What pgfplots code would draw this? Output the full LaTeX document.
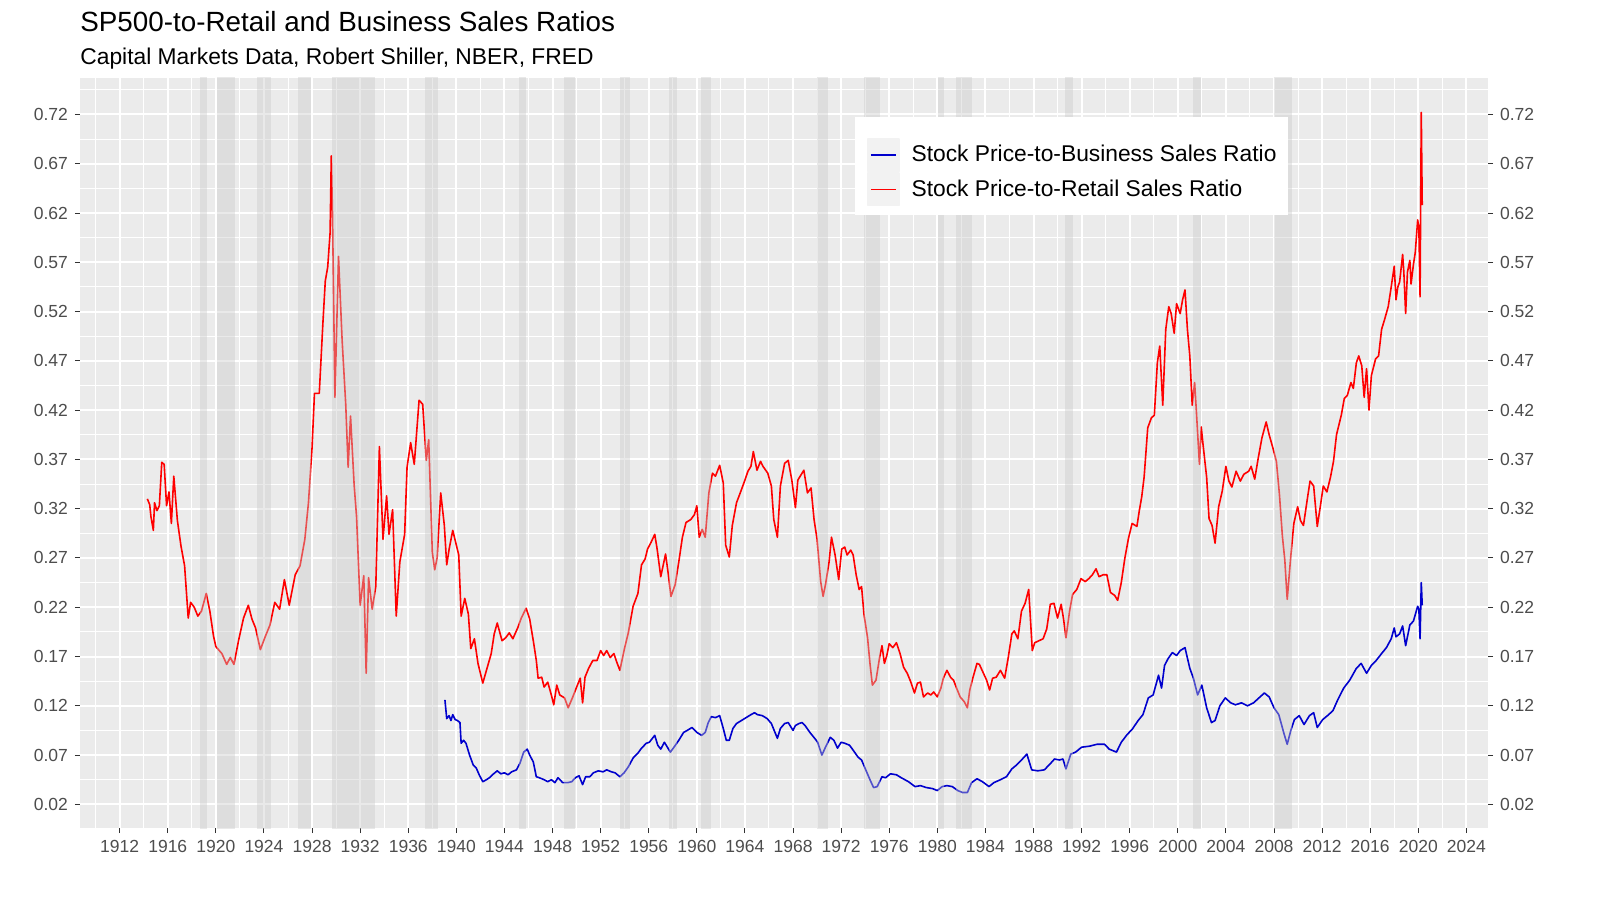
\documentclass[border=0pt]{standalone}
\usepackage{pgfplots}
\usepackage{pgfplotstable}
\pgfplotsset{compat=1.18}
\usepackage{fontspec}
\setmainfont{Liberation Sans}
\definecolor{panelbg}{RGB}{235,235,235}
\definecolor{tickgray}{RGB}{77,77,77}
\definecolor{tickline}{RGB}{51,51,51}
\definecolor{legkey}{RGB}{242,242,242}
\definecolor{recgray}{RGB}{200,200,200}
\definecolor{lineblue}{RGB}{0,0,205}
\definecolor{linered}{RGB}{255,0,0}

\pgfplotstableread{
x y
1914.3 0.330
1914.5 0.324
1914.6 0.312
1914.8 0.298
1914.9 0.326
1915.1 0.318
1915.3 0.323
1915.5 0.367
1915.7 0.365
1915.9 0.323
1916.1 0.337
1916.3 0.305
1916.5 0.353
1916.8 0.308
1917.1 0.282
1917.4 0.262
1917.7 0.209
1917.9 0.225
1918.2 0.220
1918.5 0.211
1918.8 0.216
1919.2 0.234
1919.5 0.216
1919.8 0.191
1920.0 0.180
1920.5 0.173
1920.9 0.162
1921.2 0.169
1921.5 0.162
1921.9 0.187
1922.3 0.209
1922.7 0.222
1923.0 0.208
1923.3 0.199
1923.7 0.177
1924.1 0.190
1924.5 0.202
1924.9 0.225
1925.3 0.218
1925.7 0.248
1926.1 0.222
1926.6 0.253
1927.0 0.262
1927.4 0.289
1927.7 0.326
1928.0 0.382
1928.2 0.437
1928.6 0.437
1928.9 0.508
1929.1 0.551
1929.3 0.565
1929.5 0.600
1929.6 0.678
1929.7 0.619
1929.9 0.433
1930.2 0.576
1930.5 0.491
1930.8 0.426
1931.0 0.362
1931.2 0.414
1931.5 0.344
1931.7 0.312
1932.0 0.222
1932.3 0.252
1932.5 0.153
1932.7 0.250
1933.0 0.218
1933.3 0.241
1933.6 0.383
1933.9 0.289
1934.2 0.333
1934.4 0.294
1934.7 0.319
1935.0 0.211
1935.3 0.266
1935.7 0.294
1935.9 0.362
1936.2 0.387
1936.5 0.365
1936.9 0.430
1937.2 0.426
1937.5 0.369
1937.7 0.390
1938.0 0.276
1938.2 0.258
1938.4 0.270
1938.7 0.336
1939.0 0.303
1939.2 0.263
1939.4 0.279
1939.7 0.298
1940.0 0.283
1940.2 0.273
1940.4 0.211
1940.7 0.229
1941.0 0.213
1941.2 0.178
1941.5 0.188
1941.8 0.163
1942.2 0.143
1942.55 0.158
1942.9 0.173
1943.15 0.193
1943.4 0.204
1943.8 0.186
1944.1 0.189
1944.4 0.194
1944.7 0.188
1945.1 0.199
1945.4 0.209
1945.8 0.219
1946.1 0.208
1946.4 0.186
1946.65 0.166
1946.8 0.148
1947.1 0.149
1947.3 0.139
1947.6 0.144
1947.9 0.131
1948.1 0.121
1948.35 0.141
1948.6 0.131
1949.0 0.128
1949.3 0.118
1949.65 0.128
1950.07 0.141
1950.3 0.148
1950.5 0.123
1950.7 0.149
1951.0 0.158
1951.35 0.166
1951.7 0.166
1952.0 0.176
1952.25 0.171
1952.5 0.176
1952.8 0.169
1953.1 0.173
1953.35 0.164
1953.6 0.156
1954.0 0.179
1954.3 0.194
1954.7 0.221
1955.1 0.234
1955.4 0.263
1955.7 0.269
1955.9 0.279
1956.2 0.286
1956.5 0.294
1956.7 0.279
1957.0 0.251
1957.4 0.274
1957.6 0.256
1957.85 0.231
1958.2 0.243
1958.5 0.266
1958.8 0.291
1959.1 0.306
1959.5 0.309
1959.8 0.314
1960.0 0.323
1960.2 0.291
1960.45 0.299
1960.7 0.291
1961.0 0.336
1961.3 0.356
1961.55 0.353
1961.9 0.364
1962.2 0.346
1962.4 0.283
1962.7 0.271
1962.95 0.303
1963.3 0.326
1963.7 0.339
1964.0 0.349
1964.25 0.358
1964.5 0.363
1964.7 0.378
1965.0 0.359
1965.3 0.368
1965.5 0.363
1965.9 0.356
1966.2 0.343
1966.4 0.309
1966.7 0.291
1966.95 0.343
1967.3 0.366
1967.6 0.369
1967.9 0.349
1968.2 0.321
1968.4 0.349
1968.65 0.354
1968.9 0.359
1969.2 0.336
1969.5 0.341
1969.75 0.309
1970.0 0.289
1970.3 0.246
1970.5 0.231
1970.7 0.243
1971.0 0.266
1971.2 0.291
1971.5 0.273
1971.8 0.248
1972.05 0.279
1972.3 0.281
1972.5 0.273
1972.8 0.278
1973.0 0.273
1973.25 0.253
1973.5 0.238
1973.7 0.241
1973.9 0.213
1974.2 0.189
1974.4 0.163
1974.6 0.141
1974.9 0.146
1975.2 0.169
1975.4 0.181
1975.6 0.163
1975.8 0.171
1976.0 0.183
1976.3 0.179
1976.6 0.184
1976.9 0.173
1977.2 0.159
1977.5 0.153
1977.8 0.144
1978.1 0.133
1978.35 0.143
1978.6 0.144
1978.85 0.129
1979.2 0.133
1979.45 0.131
1979.7 0.134
1980.0 0.129
1980.3 0.138
1980.5 0.148
1980.8 0.156
1981.1 0.149
1981.35 0.146
1981.6 0.138
1981.9 0.129
1982.25 0.124
1982.5 0.118
1982.7 0.136
1982.95 0.148
1983.3 0.163
1983.5 0.162
1983.8 0.154
1984.1 0.146
1984.35 0.136
1984.6 0.148
1984.9 0.149
1985.25 0.156
1985.6 0.148
1985.9 0.169
1986.2 0.193
1986.4 0.196
1986.7 0.188
1987.0 0.216
1987.3 0.224
1987.6 0.238
1987.9 0.176
1988.1 0.184
1988.45 0.186
1988.8 0.188
1989.1 0.198
1989.4 0.223
1989.7 0.224
1990.0 0.209
1990.3 0.223
1990.5 0.208
1990.7 0.189
1991.0 0.216
1991.25 0.233
1991.6 0.238
1991.95 0.249
1992.3 0.246
1992.6 0.249
1992.9 0.253
1993.2 0.259
1993.45 0.251
1993.8 0.253
1994.1 0.253
1994.4 0.235
1994.75 0.232
1995.0 0.227
1995.3 0.245
1995.6 0.270
1995.9 0.290
1996.2 0.305
1996.6 0.302
1996.8 0.318
1997.0 0.332
1997.2 0.352
1997.5 0.402
1997.8 0.412
1998.05 0.415
1998.3 0.468
1998.5 0.485
1998.75 0.425
1999.0 0.502
1999.25 0.525
1999.45 0.518
1999.7 0.498
1999.9 0.528
2000.2 0.518
2000.4 0.532
2000.6 0.542
2000.8 0.502
2001.0 0.475
2001.2 0.425
2001.4 0.448
2001.55 0.418
2001.8 0.365
2001.95 0.403
2002.1 0.385
2002.4 0.352
2002.6 0.310
2002.85 0.303
2003.1 0.285
2003.4 0.322
2003.7 0.338
2004.0 0.363
2004.25 0.348
2004.5 0.342
2004.85 0.358
2005.2 0.348
2005.5 0.355
2005.9 0.358
2006.1 0.363
2006.4 0.350
2006.7 0.372
2007.0 0.392
2007.35 0.408
2007.6 0.395
2007.9 0.382
2008.2 0.368
2008.45 0.335
2008.7 0.292
2008.9 0.268
2009.1 0.228
2009.4 0.272
2009.65 0.305
2009.97 0.322
2010.2 0.308
2010.45 0.303
2010.8 0.332
2011.0 0.348
2011.3 0.343
2011.6 0.302
2011.85 0.322
2012.1 0.343
2012.4 0.337
2012.7 0.352
2012.95 0.368
2013.2 0.395
2013.6 0.415
2013.85 0.432
2014.1 0.435
2014.4 0.448
2014.6 0.442
2014.85 0.468
2015.05 0.475
2015.3 0.465
2015.5 0.433
2015.7 0.462
2015.9 0.420
2016.1 0.455
2016.45 0.472
2016.7 0.475
2016.95 0.502
2017.2 0.512
2017.5 0.525
2017.75 0.545
2018.0 0.566
2018.15 0.532
2018.3 0.545
2018.45 0.550
2018.7 0.578
2018.8 0.560
2018.95 0.518
2019.1 0.560
2019.3 0.572
2019.4 0.548
2019.6 0.568
2019.75 0.580
2019.95 0.613
2020.05 0.605
2020.15 0.535
2020.25 0.722
2020.33 0.628
}\reddata

\pgfplotstableread{
x y
1939.05 0.126
1939.2 0.107
1939.4 0.110
1939.55 0.105
1939.7 0.111
1939.9 0.106
1940.1 0.105
1940.3 0.103
1940.4 0.082
1940.6 0.085
1940.8 0.082
1941.1 0.070
1941.4 0.060
1941.65 0.057
1941.9 0.050
1942.2 0.043
1942.5 0.045
1942.75 0.047
1943.0 0.050
1943.4 0.054
1943.7 0.051
1944.0 0.052
1944.3 0.050
1944.6 0.053
1945.0 0.055
1945.3 0.062
1945.6 0.073
1945.9 0.076
1946.1 0.070
1946.4 0.063
1946.65 0.048
1946.9 0.047
1947.3 0.045
1947.6 0.043
1947.9 0.045
1948.2 0.042
1948.45 0.047
1948.85 0.042
1949.25 0.042
1949.6 0.043
1949.9 0.047
1950.2 0.049
1950.5 0.040
1950.75 0.048
1951.1 0.048
1951.4 0.052
1951.8 0.054
1952.2 0.053
1952.5 0.055
1952.9 0.053
1953.2 0.052
1953.6 0.048
1953.95 0.052
1954.3 0.058
1954.7 0.067
1955.1 0.072
1955.4 0.077
1955.8 0.082
1956.05 0.083
1956.5 0.090
1956.75 0.080
1957.0 0.076
1957.3 0.083
1957.8 0.073
1958.1 0.078
1958.5 0.085
1958.9 0.093
1959.2 0.095
1959.6 0.098
1960.0 0.093
1960.4 0.090
1960.7 0.093
1960.95 0.103
1961.2 0.109
1961.55 0.108
1961.9 0.110
1962.2 0.097
1962.45 0.085
1962.7 0.085
1963.0 0.097
1963.3 0.102
1963.7 0.105
1964.1 0.108
1964.5 0.111
1964.8 0.113
1965.05 0.111
1965.45 0.110
1965.85 0.107
1966.2 0.102
1966.5 0.093
1966.7 0.087
1966.95 0.097
1967.3 0.102
1967.6 0.103
1968.0 0.095
1968.2 0.100
1968.5 0.102
1968.75 0.103
1969.0 0.100
1969.4 0.093
1969.8 0.087
1970.05 0.083
1970.4 0.070
1970.7 0.078
1971.1 0.088
1971.4 0.085
1971.7 0.077
1972.0 0.083
1972.3 0.082
1972.7 0.080
1973.0 0.075
1973.4 0.068
1973.7 0.065
1974.05 0.055
1974.4 0.045
1974.7 0.037
1975.0 0.038
1975.4 0.048
1975.7 0.047
1976.1 0.051
1976.6 0.050
1977.0 0.047
1977.6 0.043
1978.15 0.038
1978.6 0.039
1979.1 0.037
1979.6 0.036
1980.0 0.034
1980.4 0.038
1980.8 0.039
1981.25 0.038
1981.7 0.034
1982.1 0.032
1982.5 0.032
1982.85 0.042
1983.3 0.046
1983.75 0.043
1984.3 0.038
1984.7 0.042
1985.25 0.045
1985.75 0.048
1986.2 0.056
1986.6 0.060
1987.0 0.065
1987.45 0.071
1987.85 0.055
1988.35 0.054
1988.9 0.055
1989.3 0.060
1989.75 0.066
1990.15 0.065
1990.45 0.066
1990.7 0.056
1991.1 0.071
1991.5 0.073
1992.0 0.078
1992.65 0.079
1993.3 0.081
1993.9 0.081
1994.3 0.076
1994.9 0.073
1995.3 0.083
1995.8 0.091
1996.2 0.096
1996.7 0.105
1997.1 0.111
1997.55 0.128
1997.95 0.131
1998.4 0.151
1998.65 0.138
1998.9 0.161
1999.2 0.168
1999.55 0.174
1999.9 0.171
2000.2 0.176
2000.6 0.179
2001.0 0.158
2001.3 0.148
2001.65 0.131
2002.0 0.141
2002.4 0.118
2002.8 0.103
2003.1 0.105
2003.5 0.120
2003.95 0.128
2004.4 0.123
2004.8 0.121
2005.3 0.123
2005.8 0.120
2006.3 0.123
2006.75 0.128
2007.2 0.133
2007.6 0.129
2008.0 0.118
2008.4 0.111
2008.85 0.091
2009.1 0.081
2009.4 0.095
2009.7 0.106
2010.1 0.110
2010.5 0.101
2010.95 0.110
2011.3 0.113
2011.6 0.098
2012.05 0.106
2012.45 0.110
2012.9 0.115
2013.3 0.126
2013.8 0.138
2014.3 0.146
2014.85 0.158
2015.25 0.163
2015.7 0.153
2016.1 0.161
2016.5 0.166
2016.95 0.173
2017.35 0.179
2017.75 0.188
2018.0 0.199
2018.15 0.190
2018.45 0.193
2018.7 0.201
2018.95 0.181
2019.3 0.202
2019.6 0.206
2019.95 0.221
2020.05 0.218
2020.15 0.188
2020.25 0.245
2020.33 0.222
}\bluedata

\newcommand{\rec}[2]{\addplot[fill=recgray, fill opacity=0.4, draw=none, forget plot] coordinates {(#1,-0.1) (#1,0.9) (#2,0.9) (#2,-0.1)} --cycle;}

\pgfplotsset{
  commonax/.style={
    at={(0pt,0pt)}, anchor=south west,
    scale only axis, width=704pt, height=375pt,
    xmin=1908.7, xmax=2025.8, ymin=-0.004, ymax=0.757,
    axis line style={draw=none},
    tick align=outside,
    major tick length=2.5pt, minor tick length=0pt,
    tick style={color=tickline, line width=0.5pt},
    ticklabel style={font=\fontsize{8.75}{10}\selectfont, text=tickgray},
    ytick={0.02,0.07,0.12,0.17,0.22,0.27,0.32,0.37,0.42,0.47,0.52,0.57,0.62,0.67,0.72},
    yticklabels={0.02,0.07,0.12,0.17,0.22,0.27,0.32,0.37,0.42,0.47,0.52,0.57,0.62,0.67,0.72},
  }
}

\begin{document}
\begin{tikzpicture}
\path[use as bounding box, fill=white] (-40pt,-38.5pt) rectangle (760pt,414pt);
\node[anchor=base west, inner sep=0pt, font=\fontsize{13.9}{16}\selectfont] at (0pt,398pt) {SP500-to-Retail and Business Sales Ratios};
\node[anchor=base west, inner sep=0pt, font=\fontsize{11.4}{14}\selectfont] at (0pt,381.5pt) {Capital Markets Data, Robert Shiller, NBER, FRED};

\begin{axis}[commonax,
  axis background/.style={fill=panelbg},
  xtick={1912,1916,...,2024},
  xticklabels={1912,1916,1920,1924,1928,1932,1936,1940,1944,1948,1952,1956,1960,1964,1968,1972,1976,1980,1984,1988,1992,1996,2000,2004,2008,2012,2016,2020,2024},
  minor xtick={1910,1914,...,2026},
  minor ytick={0.045,0.095,0.145,0.195,0.245,0.295,0.345,0.395,0.445,0.495,0.545,0.595,0.645,0.695,0.745},
  grid=both,
  major grid style={white, line width=1pt},
  minor grid style={white, line width=0.5pt},
  xtick pos=left, ytick pos=left,
  legend cell align=left,
  legend style={at={(0.5504,0.948)}, anchor=north west, draw=none, fill=white,
    inner xsep=5.8pt, inner ysep=4.5pt, font=\fontsize{11.4}{13.7}\selectfont,
    row sep=0pt, nodes={inner sep=0pt},
    /tikz/every odd column/.append style={column sep=6pt}},
]
\addplot[lineblue, line width=0.8pt, line join=round,
  legend image code/.code={\fill[white] (0pt,8.125pt) rectangle (15.5pt,14pt); \fill[legkey] (0pt,-8.125pt) rectangle (15.5pt,8.125pt); \draw[lineblue, line width=0.8pt] (1.5pt,0pt) -- (14pt,0pt);}]
  table[x=x,y=y] {\bluedata};
\addlegendentry{Stock Price-to-Business Sales Ratio}
\addplot[linered, line width=0.8pt, line join=round,
  legend image code/.code={\fill[legkey] (0pt,-8.125pt) rectangle (15.5pt,8.125pt); \draw[linered, line width=0.8pt] (1.5pt,0pt) -- (14pt,0pt);}]
  table[x=x,y=y] {\reddata};
\addlegendentry{Stock Price-to-Retail Sales Ratio}
\rec{1918.67}{1919.25}
\rec{1920.08}{1921.58}
\rec{1923.42}{1924.58}
\rec{1926.83}{1927.92}
\rec{1929.67}{1933.25}
\rec{1937.42}{1938.50}
\rec{1945.17}{1945.83}
\rec{1948.92}{1949.83}
\rec{1953.58}{1954.42}
\rec{1957.67}{1958.33}
\rec{1960.33}{1961.17}
\rec{1970.00}{1970.92}
\rec{1973.92}{1975.25}
\rec{1980.08}{1980.58}
\rec{1981.58}{1982.92}
\rec{1990.58}{1991.25}
\rec{2001.25}{2001.92}
\rec{2008.00}{2009.50}
\end{axis}

\begin{axis}[commonax,
  xtick=\empty,
  ytick pos=right, yticklabel pos=right,
]
\addplot[draw=none, forget plot] coordinates {(2000,0.3)};
\end{axis}
\end{tikzpicture}
\end{document}
